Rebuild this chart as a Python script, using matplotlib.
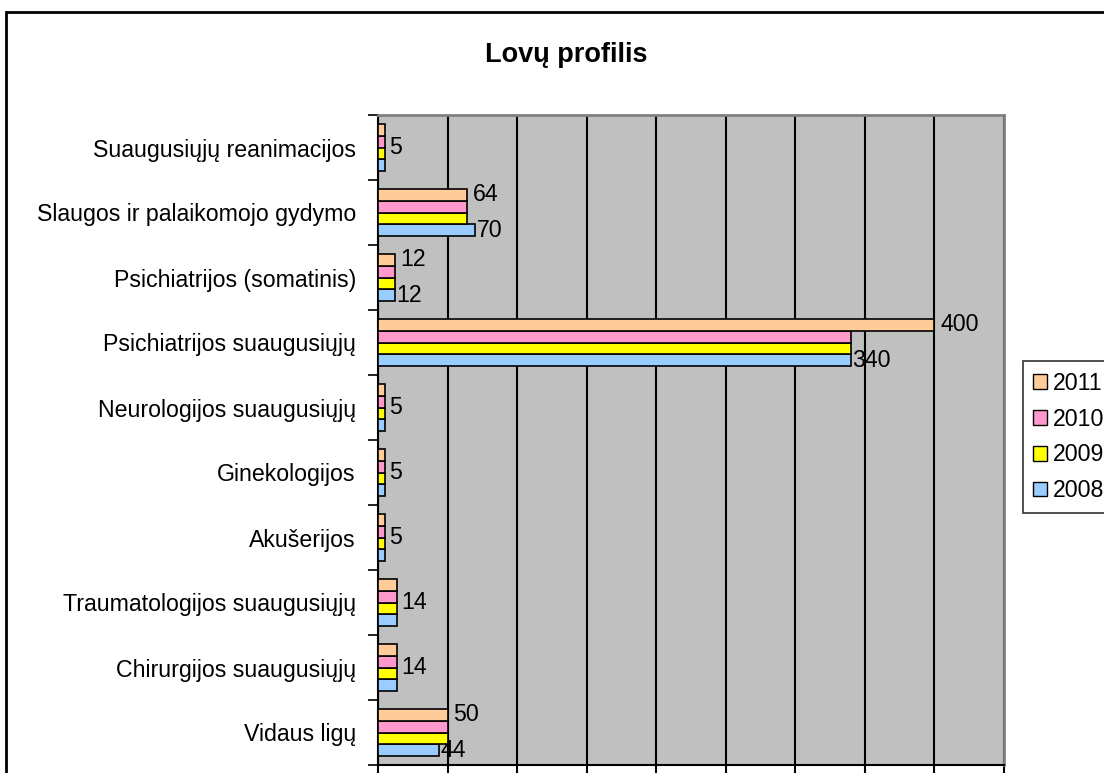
import numpy as np
import matplotlib.pyplot as plt
from matplotlib.patches import Rectangle, Patch

plt.rcParams['font.family'] = ['Liberation Sans', 'DejaVu Sans']

# categories from top to bottom
categories = ["Suaugusiųjų reanimacijos", "Slaugos ir palaikomojo gydymo",
              "Psichiatrijos (somatinis)", "Psichiatrijos suaugusiųjų",
              "Neurologijos suaugusiųjų", "Ginekologijos", "Akušerijos",
              "Traumatologijos suaugusiųjų", "Chirurgijos suaugusiųjų",
              "Vidaus ligų"]
years = ["2008", "2009", "2010", "2011"]
v2008 = [5, 70, 12, 340, 5, 5, 5, 14, 14, 44]
v2009 = [5, 64, 12, 340, 5, 5, 5, 14, 14, 50]
v2010 = [5, 64, 12, 340, 5, 5, 5, 14, 14, 50]
v2011 = [5, 64, 12, 400, 5, 5, 5, 14, 14, 50]
colors = ["#99ccff", "#ffff00", "#ff99cc", "#ffcc99"]

fs = 16.7

fig = plt.figure(figsize=(11.04, 7.73), dpi=100)
ax = fig.add_axes([378 / 1104, 8 / 773, 626 / 1104, 650 / 773])
ax.set_facecolor("#c0c0c0")

n = len(categories)
ypos = n - 1 - np.arange(n)
h = 0.18
series = [v2008, v2009, v2010, v2011]
offsets = [-1.5 * h, -0.5 * h, 0.5 * h, 1.5 * h]
for vals, c, off, yr in zip(series, colors, offsets, years):
    ax.barh(ypos + off, vals, height=h, color=c, edgecolor="black", lw=1.2, label=yr, zorder=3)

# data labels: same value in every year -> one label in the middle
for i in range(n):
    vals = [s[i] for s in series]
    if len(set(vals)) == 1 and vals[0] != 12:
        ax.text(vals[0] + 3, ypos[i], str(vals[0]), va="center", ha="left", fontsize=fs, zorder=4)
    else:
        ax.text(v2011[i] + 4, ypos[i] + offsets[3], str(v2011[i]), va="center", ha="left", fontsize=fs, zorder=4)
        ax.text(v2008[i] + 1, ypos[i] + offsets[0], str(v2008[i]), va="center", ha="left", fontsize=fs, zorder=4)

ax.set_xlim(0, 450)
ax.set_ylim(-0.5, n - 0.5)
ax.set_xticks(np.arange(0, 451, 50))
ax.set_xticklabels([])
ax.tick_params(axis="x", length=9, width=1.5, direction="out")
ax.grid(axis="x", color="black", lw=1.5, zorder=1)
ax.set_yticks(ypos)
ax.set_yticklabels(categories, fontsize=fs)
ax.tick_params(axis="y", length=0, pad=16)
ax.set_yticks(np.arange(-0.5, n, 1), minor=True)
ax.tick_params(axis="y", which="minor", length=7, width=1.2, direction="out")

for s in ("top", "right"):
    ax.spines[s].set_color("#808080")
    ax.spines[s].set_linewidth(2)
for s in ("left", "bottom"):
    ax.spines[s].set_color("black")
    ax.spines[s].set_linewidth(1.5)

fig.text(566 / 1104, 1 - 55 / 773, "Lovų profilis", ha="center", va="center",
         fontsize=19.5, fontweight="bold")

handles = [Patch(facecolor=c, edgecolor="black", label=y) for c, y in zip(colors, years)][::-1]
leg = fig.legend(handles=handles, loc="center left", bbox_to_anchor=(1023 / 1104, 1 - 437 / 773),
                 fontsize=fs, frameon=True, fancybox=False, handlelength=0.6, handleheight=0.6,
                 handletextpad=0.25, labelspacing=0.55, borderpad=0.45, borderaxespad=0)
leg.get_frame().set_edgecolor("black")
leg.get_frame().set_linewidth(1.2)

fig.patches.append(Rectangle((6 / 1104, -0.1), 2, 1 - 12 / 773 + 0.1, transform=fig.transFigure,
                             fill=False, ec="black", lw=2, clip_on=False))

fig.savefig("out.png", dpi=100)
